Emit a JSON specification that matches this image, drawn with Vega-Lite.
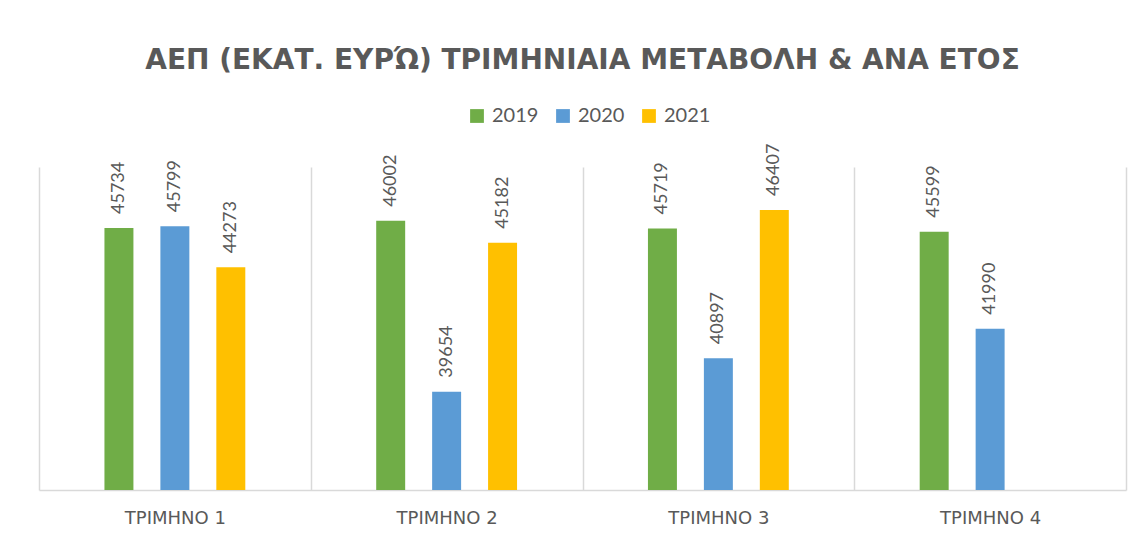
{
  "$schema": "https://vega.github.io/schema/vega-lite/v6.json",
  "width": 1087,
  "height": 323,
  "autosize": {"type": "none"},
  "padding": {"left": 39, "top": 167, "right": 18, "bottom": 51},
  "background": "white",
  "title": {
    "text": "ΑΕΠ (ΕΚΑΤ. ΕΥΡΏ) ΤΡΙΜΗΝΙΑΙΑ ΜΕΤΑΒΟΛΗ & ΑΝΑ ΕΤΟΣ",
    "font": "DejaVu Sans",
    "fontSize": 28,
    "fontWeight": "bold",
    "color": "#595959",
    "anchor": "middle",
    "offset": 31
  },
  "config": {"view": {"stroke": null}},
  "data": {
    "values": [
      {"quarter": "ΤΡΙΜΗΝΟ 1", "year": "2019", "value": 45734},
      {"quarter": "ΤΡΙΜΗΝΟ 1", "year": "2020", "value": 45799},
      {"quarter": "ΤΡΙΜΗΝΟ 1", "year": "2021", "value": 44273},
      {"quarter": "ΤΡΙΜΗΝΟ 2", "year": "2019", "value": 46002},
      {"quarter": "ΤΡΙΜΗΝΟ 2", "year": "2020", "value": 39654},
      {"quarter": "ΤΡΙΜΗΝΟ 2", "year": "2021", "value": 45182},
      {"quarter": "ΤΡΙΜΗΝΟ 3", "year": "2019", "value": 45719},
      {"quarter": "ΤΡΙΜΗΝΟ 3", "year": "2020", "value": 40897},
      {"quarter": "ΤΡΙΜΗΝΟ 3", "year": "2021", "value": 46407},
      {"quarter": "ΤΡΙΜΗΝΟ 4", "year": "2019", "value": 45599},
      {"quarter": "ΤΡΙΜΗΝΟ 4", "year": "2020", "value": 41990}
    ]
  },
  "encoding": {
    "x": {
      "field": "quarter",
      "type": "nominal",
      "sort": null,
      "scale": {"paddingInner": 0, "paddingOuter": 0},
      "axis": {
        "title": null,
        "labelAngle": 0,
        "labelFont": "DejaVu Sans",
        "labelFontSize": 18,
        "labelColor": "#595959",
        "labelPadding": 19,
        "ticks": false,
        "grid": true,
        "tickBand": "extent",
        "gridColor": "#d9d9d9",
        "gridWidth": 1.5,
        "domainColor": "#d9d9d9",
        "domainWidth": 1.5
      }
    },
    "xOffset": {
      "field": "year",
      "type": "nominal",
      "scale": {"domain": ["_a", "2019", "2020", "2021", "_b"], "paddingInner": 0.482, "paddingOuter": 0.17}
    },
    "y": {
      "field": "value",
      "type": "quantitative",
      "scale": {"domain": [36000, 48000], "zero": false, "nice": false},
      "axis": null
    }
  },
  "layer": [
    {
      "mark": {"type": "bar", "clip": true},
      "encoding": {
        "color": {
          "field": "year",
          "type": "nominal",
          "scale": {"domain": ["2019", "2020", "2021"], "range": ["#70AD47", "#5B9BD5", "#FFC000"]},
          "legend": {
            "title": null,
            "orient": "none",
            "legendX": 428,
            "legendY": -61,
            "direction": "horizontal",
            "symbolType": "square",
            "symbolSize": 190,
            "symbolStrokeWidth": 0,
            "labelFont": "Lato",
            "labelFontSize": 20,
            "labelColor": "#595959",
            "labelOffset": 5,
            "columnPadding": 14
          }
        }
      }
    },
    {
      "mark": {
        "type": "text",
        "angle": 270,
        "align": "left",
        "baseline": "middle",
        "dx": 14,
        "font": "Lato",
        "fontSize": 18,
        "color": "#595959"
      },
      "encoding": {"text": {"field": "value", "type": "quantitative", "format": "d"}}
    }
  ]
}
